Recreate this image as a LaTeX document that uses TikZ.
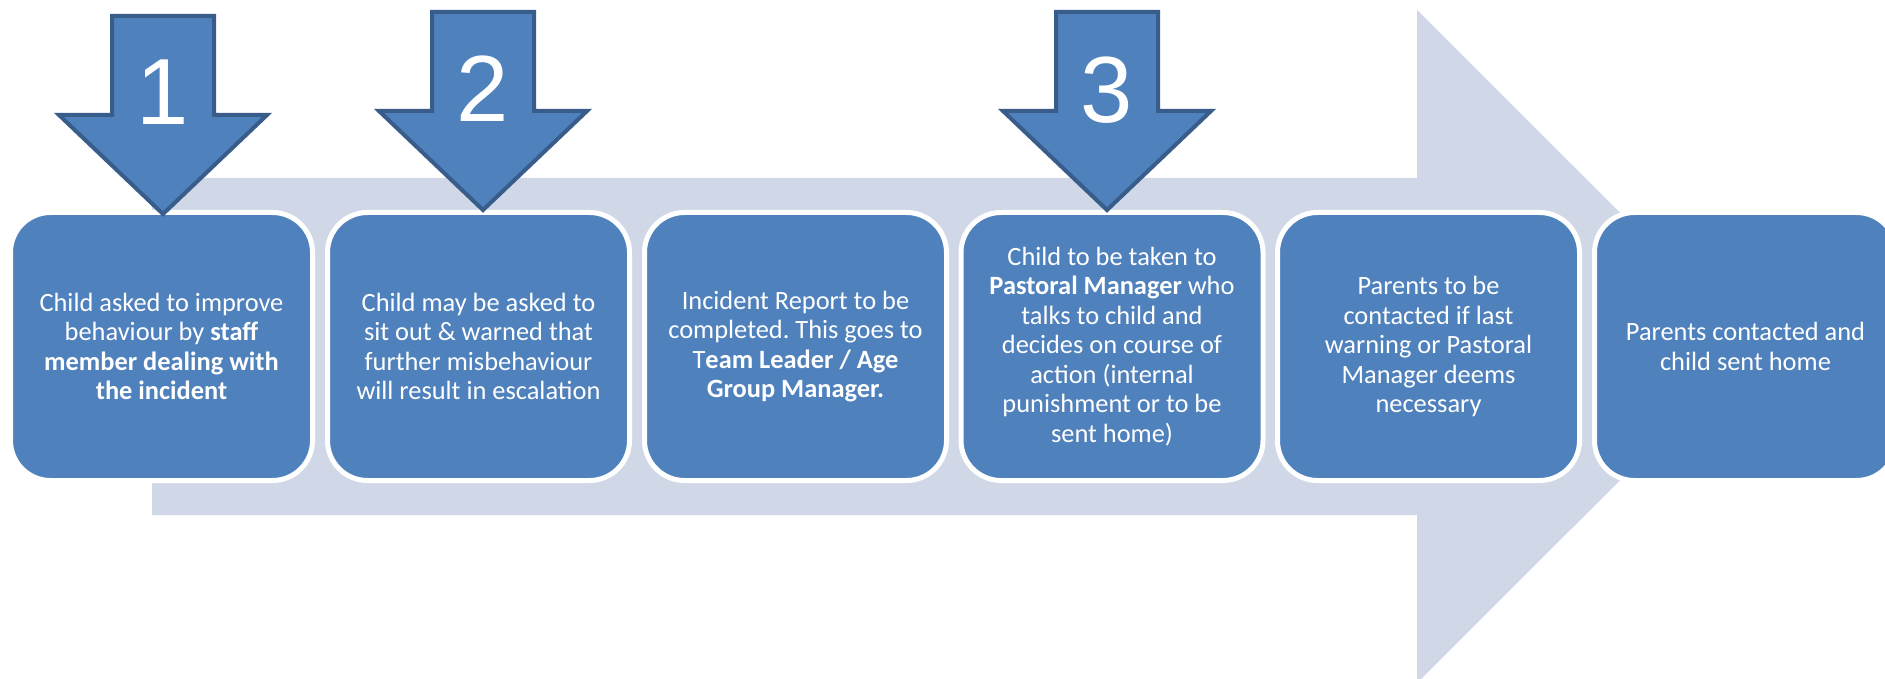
\documentclass[tikz,border=0pt]{standalone}
\usepackage{fontspec}
\setmainfont{Carlito}
\newfontfamily\numfont{Liberation Sans}
\definecolor{boxblue}{RGB}{79,129,189}
\definecolor{bandblue}{RGB}{208,216,232}
\definecolor{arrowedge}{RGB}{56,93,138}
\frenchspacing
\begin{document}
\begin{tikzpicture}[x=0.5pt,y=-0.5pt,
  stepbox/.style={draw=white, line width=2.5pt, fill=boxblue, rounded corners=20pt,
    minimum width=151pt, minimum height=134pt, inner sep=0pt, outer sep=0pt,
    text=white, align=center, font=\fontsize{13.2pt}{14.75pt}\selectfont},
  downarrow/.style={draw=arrowedge, line width=2pt, fill=boxblue, line join=miter},
  band/.style={fill=bandblue, draw=none},
  numlabel/.style={text=white, anchor=base, inner sep=0pt, font=\numfont\fontsize{47pt}{47pt}\selectfont}]
\useasboundingbox (0,0) rectangle (1885,679);
\clip (0,0) rectangle (1885,679);
\fill[white] (0,0) rectangle (1885,679);
% background process arrow
\path[band] (152,178) -- (1417,178) -- (1417,10) -- (1754,346.5) -- (1417,683) -- (1417,515) -- (152,515) -- cycle;
% steps
\node[stepbox] (s1) at (161.5,346.5) {Child asked to improve\\behaviour by \textbf{staff}\\\textbf{member dealing with}\\\textbf{the incident}};
\node[stepbox] (s2) at (478.5,346.5) {Child may be asked to\\sit out \& warned that\\further misbehaviour\\will result in escalation};
\node[stepbox] (s3) at (795.5,346.5) {Incident Report to be\\completed. This goes to\\T\textbf{eam Leader / Age}\\\textbf{Group Manager.}};
\node[stepbox] (s4) at (1112,346.5) {Child to be taken to\\\textbf{Pastoral Manager} who\\talks to child and\\decides on course of\\action (internal\\punishment or to be\\sent home)};
\node[stepbox] (s5) at (1428.5,346.5) {Parents to be\\contacted if last\\warning or Pastoral\\Manager deems\\necessary};
\node[stepbox] (s6) at (1745.5,346.5) {Parents contacted and\\child sent home};
% numbered down arrows
\foreach \cx/\ty/\nm in {163/14/a1, 483/10/a2, 1107/10/a3}{
  \path[downarrow] (\cx-51,\ty+2) -- (\cx+51,\ty+2) -- (\cx+51,\ty+101) -- (\cx+104,\ty+101)
    -- (\cx,\ty+200) -- (\cx-104,\ty+101) -- (\cx-51,\ty+101) -- cycle;
}
\node[numlabel] (n1) at (163,125) {1};
\node[numlabel] (n2) at (483,122) {2};
\node[numlabel] (n3) at (1107,123) {3};
\end{tikzpicture}
\end{document}
